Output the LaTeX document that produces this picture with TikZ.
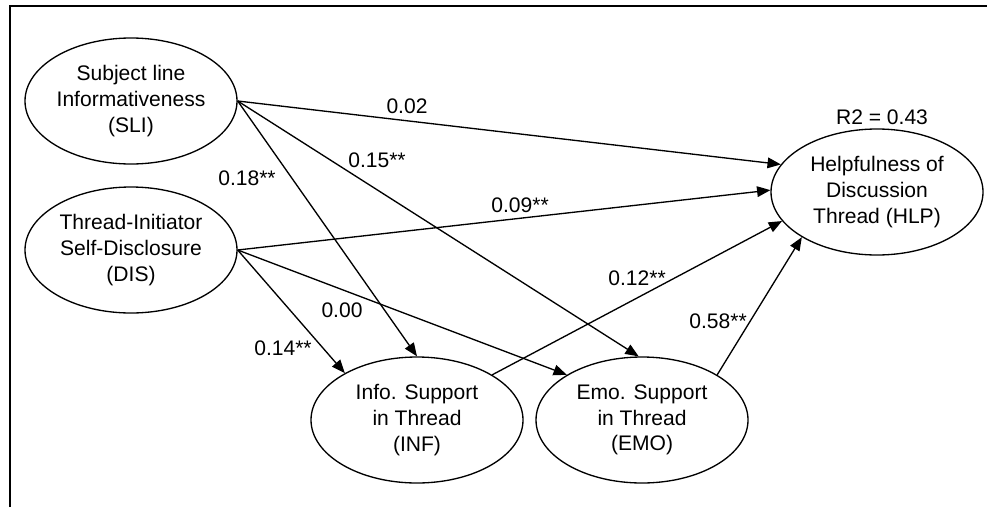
\documentclass[tikz,border=0pt]{standalone}
\usepackage{fontspec}
\setmainfont{Liberation Sans}
\usetikzlibrary{shapes.geometric,arrows.meta}
\begin{document}
\begin{tikzpicture}[x=0.75pt,y=-0.75pt,
  latent/.style={ellipse,draw,line width=1pt,minimum width=159pt,minimum height=94.5pt,inner sep=0pt,align=center,font=\fontsize{15.8}{19.2}\selectfont},
  pathline/.style={line width=1pt,-{Triangle[length=10pt,width=8pt]}},
  coef/.style={font=\fontsize{15.8}{18}\selectfont,inner sep=0pt}]
\useasboundingbox (0,0) rectangle (987,507);
\draw[line width=1.5pt] (10,507) -- (10,5.5) -- (987,5.5);

\node[latent] (SLI) at (131,101) {Subject line\\Informativeness\\(SLI)};
\node[latent] (DIS) at (131,250) {Thread-Initiator\\Self-Disclosure\\(DIS)};
\node[latent] (HLP) at (877,192) {Helpfulness of\\Discussion\\Thread (HLP)};
\node[latent] (INF) at (417,420) {Info. Support\\in Thread\\(INF)};
\node[latent] (EMO) at (642,420) {Emo. Support\\in Thread\\(EMO)};

\node[coef] (r2) at (882,117) {R2 = 0.43};

\draw[pathline] (SLI.east) -- (HLP.164);
\draw[pathline] (SLI.east) -- (INF.north);
\draw[pathline] (SLI.east) -- (EMO.93);
\draw[pathline] (DIS.east) -- (HLP.179);
\draw[pathline] (DIS.east) -- (INF.147.6);
\draw[pathline] (DIS.east) -- (EMO.149);
\draw[pathline] (INF.31.7) -- (HLP.197.5);
\draw[pathline] (EMO.31) -- (HLP.211.3);

\node[coef] (c1) at (407,106) {0.02};
\node[coef] (c2) at (247,178) {0.18**};
\node[coef] (c3) at (377,160) {0.15**};
\node[coef] (c4) at (520,205) {0.09**};
\node[coef] (c5) at (283,348) {0.14**};
\node[coef] (c6) at (342,310) {0.00};
\node[coef] (c7) at (637,278) {0.12**};
\node[coef] (c8) at (718,321) {0.58**};
\end{tikzpicture}
\end{document}
